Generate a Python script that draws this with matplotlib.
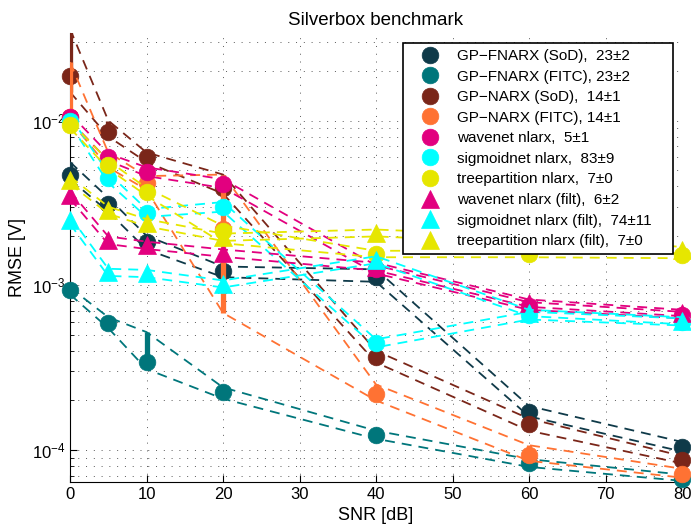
import numpy as np
from matplotlib import pyplot as plt
from matplotlib.lines import Line2D

plt.rcParams['font.family'] = ['Liberation Sans', 'DejaVu Sans']

snr = [0, 5, 10, 20, 40, 60, 80]

labels = ['GP\u2212FNARX (SoD),  23\u00b12', 'GP\u2212FNARX (FITC), 23\u00b12',
          'GP\u2212NARX (SoD),  14\u00b11', 'GP\u2212NARX (FITC), 14\u00b11',
          'wavenet nlarx,  5\u00b11', 'sigmoidnet nlarx,  83\u00b19',
          'treepartition nlarx,  7\u00b10', 'wavenet nlarx (filt),  6\u00b12',
          'sigmoidnet nlarx (filt),  74\u00b111', 'treepartition nlarx (filt),  7\u00b10']

fnarx_sod_mean = [0.0047, 0.0031, 0.00183, 0.00122, 0.00112, 0.00017, 0.000104]
fnarx_sod_lo = [0.0044, 0.0028, 0.00165, 0.00112, 0.00105, 0.000160, 0.000098]
fnarx_sod_hi = [0.0056, 0.0034, 0.0020, 0.00130, 0.00125, 0.000185, 0.000112]

fnarx_fitc_mean = [0.00094, 0.00059, 0.00034, 0.000224, 0.000123, 8.3e-5, 6.7e-5]
fnarx_fitc_lo = [0.00088, 0.00055, 0.00031, 0.000205, 0.000117, 7.9e-5, 6.5e-5]
fnarx_fitc_hi = [0.00097, 0.00064, 0.00052, 0.00024, 0.000131, 8.8e-5, 7.1e-5]

narx_sod_mean = [0.0186, 0.0085, 0.0060, 0.0039, 0.000365, 0.000144, 8.7e-5]
narx_sod_lo = [0.0149, 0.0080, 0.0056, 0.0036, 0.00034, 0.000131, 8.3e-5]
narx_sod_hi = [0.036, 0.0100, 0.0064, 0.0047, 0.00040, 0.000155, 9.2e-5]

narx_fitc_mean = [0.0105, 0.0058, 0.0042, 0.0022, 0.00022, 9.3e-5, 7.2e-5]
narx_fitc_lo = [0.0100, 0.0052, 0.0038, 0.00068, 0.000200, 8.6e-5, 6.8e-5]
narx_fitc_hi = [0.0226, 0.0064, 0.0046, 0.0047, 0.00025, 0.000107, 7.7e-5]

wavenet_mean = [0.0105, 0.0060, 0.0049, 0.0041, 0.00125, 0.00075, 0.00066]
wavenet_lo = [0.0100, 0.0057, 0.0046, 0.0039, 0.00118, 0.00071, 0.00063]
wavenet_hi = [0.0110, 0.0063, 0.0052, 0.0044, 0.00132, 0.00079, 0.00069]

sigmoid_mean = [0.0100, 0.0045, 0.00275, 0.0030, 0.000445, 0.00066, 0.00060]
sigmoid_lo = [0.0095, 0.0042, 0.0026, 0.0028, 0.00042, 0.00062, 0.00057]
sigmoid_hi = [0.0106, 0.0048, 0.0029, 0.0032, 0.00047, 0.00069, 0.00063]

tree_mean = [0.0094, 0.0054, 0.0037, 0.00215, 0.00155, 0.00155, 0.00152]
tree_lo = [0.0090, 0.0051, 0.0035, 0.0018, 0.00148, 0.00148, 0.00146]
tree_hi = [0.0099, 0.0057, 0.0039, 0.0023, 0.00162, 0.00162, 0.00158]

wavenet_f_mean = [0.00353, 0.00188, 0.00175, 0.00157, 0.0013, 0.00078, 0.00068]
wavenet_f_lo = [0.00335, 0.00178, 0.00166, 0.00149, 0.00123, 0.00074, 0.00065]
wavenet_f_hi = [0.00372, 0.00198, 0.00184, 0.00165, 0.00137, 0.00082, 0.00071]

sigmoid_f_mean = [0.00249, 0.0012, 0.00118, 0.00102, 0.00143, 0.00068, 0.00061]
sigmoid_f_lo = [0.00236, 0.00114, 0.00112, 0.00097, 0.00136, 0.00065, 0.00058]
sigmoid_f_hi = [0.00262, 0.00126, 0.00124, 0.00107, 0.00150, 0.00071, 0.00064]

tree_f_mean = [0.00435, 0.00286, 0.0024, 0.00196, 0.00208, 0.0019, 0.00163]
tree_f_lo = [0.00413, 0.00272, 0.00228, 0.00186, 0.00198, 0.00181, 0.00155]
tree_f_hi = [0.00457, 0.00300, 0.00252, 0.00206, 0.00218, 0.00199, 0.00171]

colors = ['#0f3a49', '#00767b', '#7a2619', '#ff7233', '#e2007f',
          '#00ffff', '#e6e600', '#e2007f', '#00ffff', '#e6e600']
markers = ['o'] * 7 + ['^'] * 3

series = [
    (fnarx_sod_mean, fnarx_sod_lo, fnarx_sod_hi),
    (fnarx_fitc_mean, fnarx_fitc_lo, fnarx_fitc_hi),
    (narx_sod_mean, narx_sod_lo, narx_sod_hi),
    (narx_fitc_mean, narx_fitc_lo, narx_fitc_hi),
    (wavenet_mean, wavenet_lo, wavenet_hi),
    (sigmoid_mean, sigmoid_lo, sigmoid_hi),
    (tree_mean, tree_lo, tree_hi),
    (wavenet_f_mean, wavenet_f_lo, wavenet_f_hi),
    (sigmoid_f_mean, sigmoid_f_lo, sigmoid_f_hi),
    (tree_f_mean, tree_f_lo, tree_f_hi),
]

fig = plt.figure(figsize=(6.91, 5.26), dpi=100)
ax = fig.add_axes([0.1013, 0.0837, 0.8857, 0.8536])
ax.set_yscale('log')

handles = []
for i, (m, lo, hi) in enumerate(series):
    c = colors[i]
    z = 3 + i * 0.1
    ax.plot(snr, lo, color=c, lw=1.3, dashes=(5.5, 3.9), zorder=z)
    ax.plot(snr, hi, color=c, lw=1.3, dashes=(5.5, 3.9), zorder=z)
    ax.vlines(snr, lo, hi, colors=c, lw=3.8, zorder=z + 0.01)
    ms = 12 if markers[i] == 'o' else 13
    ax.plot(snr, m, linestyle='none', marker=markers[i], ms=ms, color=c,
            mec=c, mew=0.5, zorder=z + 0.02, clip_on=False)
    handles.append(Line2D([], [], linestyle='none', marker=markers[i], ms=ms,
                          color=c, mec=c, mew=0.5))

ax.set_xlim(0, 80)
ax.set_ylim(6.4e-5, 0.034)
ax.set_xticks(range(0, 81, 10))
ax.tick_params(which='both', direction='in', labelsize=12, top=False, right=False)
ax.tick_params(which='major', length=5)
ax.tick_params(which='minor', length=3)
ax.spines['top'].set_visible(False)
ax.spines['right'].set_visible(False)

grid_kw = dict(color='0.35', lw=0.7, linestyle=(0, (1, 7)))
ax.grid(True, which='both', axis='y', **grid_kw)
ax.grid(True, which='major', axis='x', **grid_kw)
ax.set_axisbelow(True)

ax.set_title('Silverbox benchmark', fontsize=13.5)
ax.set_xlabel('SNR [dB]', fontsize=13)
ax.set_ylabel('RMSE [V]', fontsize=13)

leg = ax.legend(handles, labels, loc='upper left', mode='expand',
                bbox_to_anchor=(0.544, 0.5, 0.441, 0.478), borderaxespad=0,
                fontsize=11, labelspacing=0.43, handlelength=2.8,
                handletextpad=0.35, fancybox=False, framealpha=1,
                edgecolor='black')
leg.get_frame().set_linewidth(1.2)
leg.set_zorder(10)

fig.savefig('out.png', dpi=100)
